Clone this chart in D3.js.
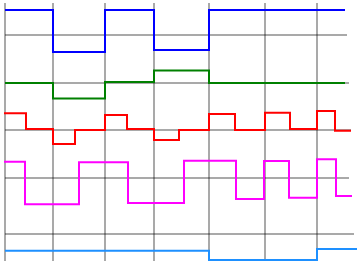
<!DOCTYPE html>
<html>
<head>
<meta charset="utf-8">
<script src="https://cdn.jsdelivr.net/npm/d3@7"></script>
<style>
  body { margin: 0; background: #fff; }
  svg { display: block; }
</style>
</head>
<body>
<div id="chart"></div>
<script>
var width = 359, height = 270;

// time ticks (vertical grid)
var timeTicks = [0, 48, 100, 149, 204, 260, 312];

// signal rows: name, baseline level, baseline end, color
var rowNames = ["blue", "green", "red", "magenta", "dodger"];
var rowBase = [227, 179, 132, 84, 28];
var rowEnd = [342, 344, 346, 344, 349];
var rowColor = ["#0000ff", "#008000", "#ff0000", "#ff00ff", "#1e90ff"];

// step signals: change times, levels (relative to baseline), end time
var blueT = [0, 48, 100, 149, 204];
var blueV = [25, -17, 25, -15, 25];
var blueEnd = 340;

var greenT = [0, 48, 100, 149, 204];
var greenV = [0, -15.5, 1, 12.5, 0];
var greenEnd = 340;

var redT = [-1, 21, 48, 70, 100, 122, 149, 174, 204, 230, 260, 285, 312, 330];
var redV = [16.7, 1, -14, 0, 15, 1, -10, 0, 16, 0, 17.3, 1, 19, -0.7];
var redEnd = 346;

var magentaT = [-1, 20, 74, 123, 179, 231, 259, 284, 312, 331];
var magentaV = [16.3, -26.3, 15.7, -25, 17.3, -21, 17, -19.7, 18.7, -18];
var magentaEnd = 347;

var dodgerT = [0, 204, 312];
var dodgerV = [-16.7, -26, -15];
var dodgerEnd = 352;

var signalT = [blueT, greenT, redT, magentaT, dodgerT];
var signalV = [blueV, greenV, redV, magentaV, dodgerV];
var signalEnd = [blueEnd, greenEnd, redEnd, magentaEnd, dodgerEnd];

var xScale = d3.scaleLinear().domain([0, 352]).range([5, 357]);
var yScale = d3.scaleLinear().domain([0, 259]).range([262, 3]);

var svg = d3.select("#chart").append("svg")
    .attr("width", width)
    .attr("height", height);

var line = d3.line()
    .x(function (d) { return xScale(d[0]); })
    .y(function (d) { return yScale(d[1]); })
    .curve(d3.curveStepAfter);

// baselines
svg.selectAll(".baseline")
    .data(rowBase)
    .enter().append("line")
    .attr("class", "baseline")
    .attr("x1", xScale(0))
    .attr("x2", function (d, i) { return xScale(rowEnd[i]); })
    .attr("y1", function (d) { return yScale(d); })
    .attr("y2", function (d) { return yScale(d); })
    .attr("stroke", "#000")
    .attr("stroke-opacity", 0.45)
    .attr("stroke-width", 1.5);

// time grid
svg.selectAll(".tick-line")
    .data(timeTicks)
    .enter().append("line")
    .attr("class", "tick-line")
    .attr("x1", function (d) { return xScale(d); })
    .attr("x2", function (d) { return xScale(d); })
    .attr("y1", yScale(259))
    .attr("y2", yScale(1))
    .attr("stroke", "#000")
    .attr("stroke-opacity", 0.45)
    .attr("stroke-width", 1.5);

// signals on top
rowNames.forEach(function (name, i) {
    var pts = signalT[i].map(function (t, j) {
        return [t, rowBase[i] + signalV[i][j]];
    });
    pts.push([signalEnd[i], rowBase[i] + signalV[i][signalV[i].length - 1]]);
    svg.append("path")
        .datum(pts)
        .attr("class", "signal " + name)
        .attr("fill", "none")
        .attr("stroke", rowColor[i])
        .attr("stroke-width", 2)
        .attr("d", line);
});
</script>
</body>
</html>
